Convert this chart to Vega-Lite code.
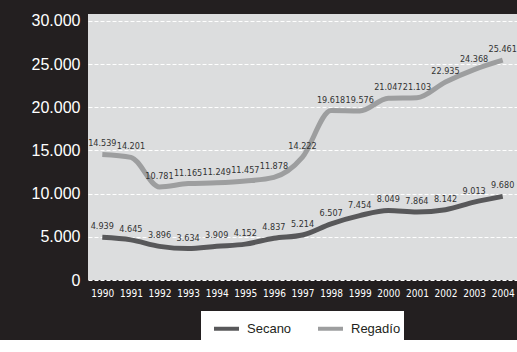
{
  "$schema": "https://vega.github.io/schema/vega-lite/v6.json",
  "width": 429,
  "height": 266,
  "padding": {"left": 10, "top": 12, "right": 0, "bottom": 0},
  "background": "#231f20",
  "config": {
    "locale": {"number": {"decimal": ",", "thousands": ".", "grouping": [3], "currency": ["", " €"]}},
    "view": {"fill": "#dcddde", "stroke": null},
    "font": "Liberation Sans",
    "legend": {"layout": {"bottom": {"anchor": "middle"}}}
  },
  "data": {
    "values": [
      {"year": "1990", "serie": "Secano", "valor": 4939},
      {"year": "1991", "serie": "Secano", "valor": 4645},
      {"year": "1992", "serie": "Secano", "valor": 3896},
      {"year": "1993", "serie": "Secano", "valor": 3634},
      {"year": "1994", "serie": "Secano", "valor": 3909},
      {"year": "1995", "serie": "Secano", "valor": 4152},
      {"year": "1996", "serie": "Secano", "valor": 4837},
      {"year": "1997", "serie": "Secano", "valor": 5214},
      {"year": "1998", "serie": "Secano", "valor": 6507},
      {"year": "1999", "serie": "Secano", "valor": 7454},
      {"year": "2000", "serie": "Secano", "valor": 8049},
      {"year": "2001", "serie": "Secano", "valor": 7864},
      {"year": "2002", "serie": "Secano", "valor": 8142},
      {"year": "2003", "serie": "Secano", "valor": 9013},
      {"year": "2004", "serie": "Secano", "valor": 9680},
      {"year": "1990", "serie": "Regadío", "valor": 14539},
      {"year": "1991", "serie": "Regadío", "valor": 14201},
      {"year": "1992", "serie": "Regadío", "valor": 10781},
      {"year": "1993", "serie": "Regadío", "valor": 11165},
      {"year": "1994", "serie": "Regadío", "valor": 11249},
      {"year": "1995", "serie": "Regadío", "valor": 11457},
      {"year": "1996", "serie": "Regadío", "valor": 11878},
      {"year": "1997", "serie": "Regadío", "valor": 14222},
      {"year": "1998", "serie": "Regadío", "valor": 19618},
      {"year": "1999", "serie": "Regadío", "valor": 19576},
      {"year": "2000", "serie": "Regadío", "valor": 21047},
      {"year": "2001", "serie": "Regadío", "valor": 21103},
      {"year": "2002", "serie": "Regadío", "valor": 22935},
      {"year": "2003", "serie": "Regadío", "valor": 24368},
      {"year": "2004", "serie": "Regadío", "valor": 25461}
    ]
  },
  "encoding": {
    "x": {
      "field": "year", "type": "ordinal", "title": null,
      "scale": {"type": "point", "padding": 0.5},
      "axis": {"labelAngle": 0, "labelColor": "white", "labelFontSize": 10, "labelFont": "DejaVu Sans Condensed, Liberation Sans", "ticks": false, "domain": false, "labelPadding": 8, "grid": false}
    },
    "y": {
      "field": "valor", "type": "quantitative", "title": null,
      "scale": {"domain": [0, 30800], "nice": false},
      "axis": {"values": [0, 5000, 10000, 15000, 20000, 25000, 30000], "format": ",d", "labelColor": "white", "labelFontSize": 16, "ticks": false, "domain": false, "labelPadding": 8, "minExtent": 78, "maxExtent": 78, "gridColor": "white", "gridDash": [4, 2], "gridWidth": 1, "gridOpacity": 1}
    }
  },
  "layer": [
    {
      "mark": {"type": "line", "strokeWidth": 5, "interpolate": "monotone"},
      "encoding": {
        "color": {
          "field": "serie", "type": "nominal", "title": null,
          "scale": {"domain": ["Secano", "Regadío"], "range": ["#58585a", "#9d9e9f"]},
          "legend": {
            "orient": "bottom", "direction": "horizontal", "symbolType": "stroke", "symbolSize": 625, "symbolStrokeWidth": 4,
            "fillColor": "white", "padding": 3, "labelFontSize": 13, "labelColor": "#231f20", "columnPadding": 16, "offset": 13, "labelOffset": 6, "symbolOffset": 8
          }
        }
      }
    },
    {
      "mark": {"type": "text", "dy": -11, "fontSize": 9, "font": "DejaVu Sans Condensed, Liberation Sans", "color": "#333333"},
      "encoding": {
        "text": {"field": "valor", "type": "quantitative", "format": ",d"},
        "detail": {"field": "serie"}
      }
    }
  ]
}
